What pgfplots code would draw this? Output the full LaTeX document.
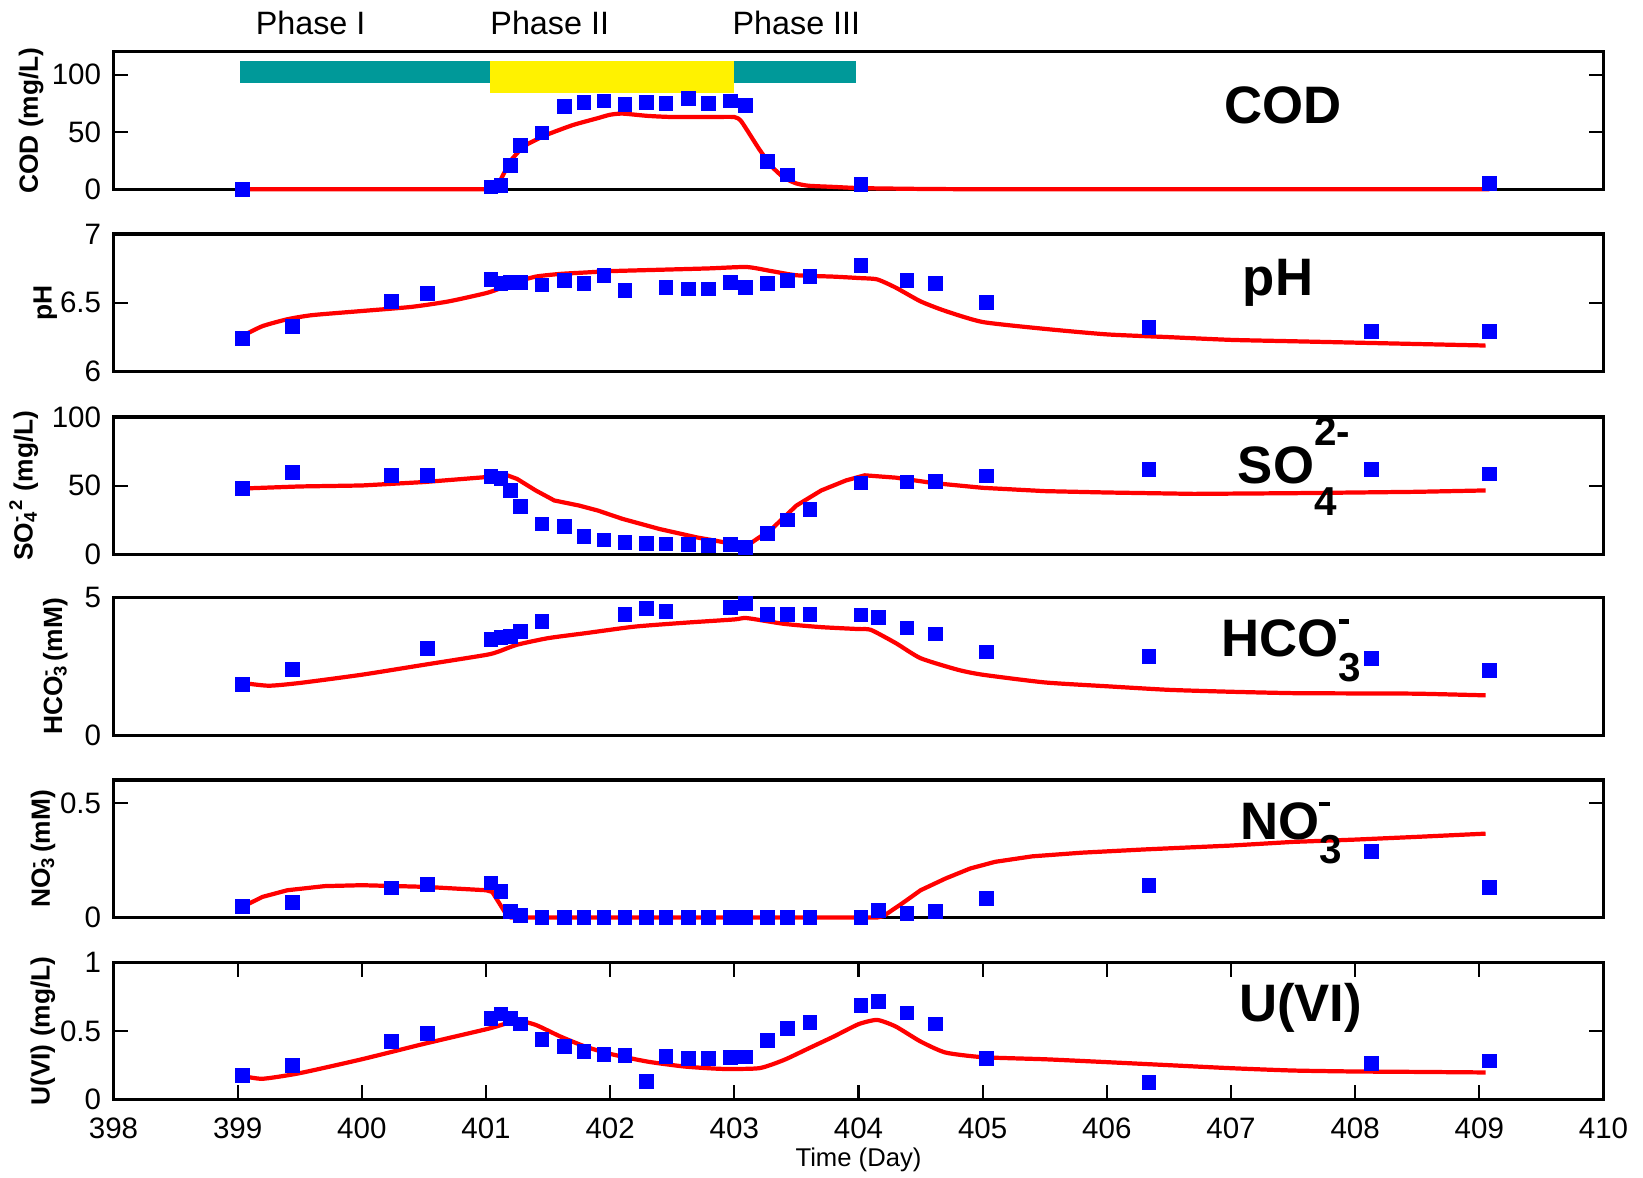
\documentclass[border=0pt]{standalone}
\usepackage{fontspec}
\setmainfont{Liberation Sans}
\usepackage{pgfplots}
\pgfplotsset{compat=1.18}

\definecolor{phaseteal}{RGB}{0,153,153}

\pgfplotsset{
  panel/.style={width=14.9cm, height=1.375cm, scale only axis,
    xmin=398, xmax=410, anchor=north west, at={(1.135cm,#1)},
    xtick=\empty, tick align=inside, major tick length=0.15cm,
    axis line style={line width=0.9pt},
    every tick/.style={black, line width=0.6pt},
    ticklabel style={font=\fontsize{8.4}{10}\selectfont},
    xticklabel style={yshift=-1.5pt},
    /pgf/number format/assume math mode=true,
    ylabel style={font=\bfseries\fontsize{7.5}{9}\selectfont},
    clip=false},
  obs/.style={only marks, mark=square*, mark size=1.9pt, blue, mark options={draw=blue, fill=blue}},
  model/.style={red, line width=1.2pt, no marks, smooth, tension=0.35},
  sharp/.style={red, line width=1.2pt, no marks},
}
\tikzset{tag/.style={anchor=base west, inner sep=0pt, font=\bfseries\fontsize{15}{15}\selectfont},
  phase/.style={anchor=west, inner sep=0pt, font=\fontsize{9.2}{10}\selectfont}}
\newcommand{\dash}{\rule[9.3pt]{3pt}{1.4pt}}
\newcommand{\low}[1]{\raisebox{-0.47em}{\fontsize{11.5}{11.5}\selectfont #1}}

\begin{document}
\begin{tikzpicture}
\path[use as bounding box] (0,0) rectangle (16.43,-11.77);

% COD
\begin{axis}[panel=-0.517cm, ymin=0, ymax=120, ytick={0,50,100}, ylabel={COD (mg/L)}, ylabel shift=-4.5pt]
\addplot[fill=phaseteal, draw=none] coordinates {(399.02,92.4) (403.98,92.4) (403.98,112) (399.02,112)} -- cycle;
\addplot[fill=yellow, draw=none] coordinates {(401.03,83.7) (403.0,83.7) (403.0,112) (401.03,112)} -- cycle;
\addplot[model] coordinates {(399.04,0) (401.0,0) (401.05,0.5) (401.1,5) (401.15,15) (401.2,25) (401.3,37) (401.4,43)
  (401.5,48) (401.7,56) (401.9,62) (402.0,65) (402.1,66) (402.3,64) (402.5,63) (402.8,63) (403.0,63)
  (403.05,60) (403.1,52) (403.2,35) (403.3,20) (403.4,10) (403.5,5) (403.6,3) (403.8,2) (404.0,1)
  (404.3,0.5) (405,0) (409.08,0)};
\addplot[obs] coordinates {(399.04,0) (401.04,2) (401.12,3) (401.20,21) (401.28,38) (401.45,49) (401.63,72)
  (401.79,76) (401.95,77) (402.12,74) (402.29,76) (402.45,75) (402.63,79) (402.79,75) (402.97,77)
  (403.09,73) (403.27,24) (403.43,12.5) (404.02,4) (409.08,5)};
\node[phase] at (axis cs:399.14,145) {Phase I};
\node[phase] at (axis cs:401.03,145) {Phase II};
\node[phase] at (axis cs:402.98,145) {Phase III};
\node[tag] at (axis cs:406.94,57) {COD};
\end{axis}

% pH
\begin{axis}[panel=-2.34cm, ymin=6, ymax=7, ytick={6,6.5,7}, ylabel={pH}, ylabel shift=-6pt]
\addplot[model] coordinates {(399.04,6.26) (399.2,6.33) (399.4,6.38) (399.6,6.41) (400.0,6.44) (400.4,6.47)
  (400.7,6.51) (401.0,6.57) (401.1,6.60) (401.2,6.64) (401.4,6.69) (401.6,6.71) (401.8,6.72) (402.0,6.73)
  (402.4,6.74) (402.8,6.75) (403.1,6.76) (403.3,6.73) (403.5,6.70) (403.8,6.69) (404.0,6.68) (404.15,6.67)
  (404.3,6.61) (404.5,6.51) (404.7,6.44) (405.0,6.36) (405.5,6.31) (406.0,6.27) (406.5,6.25) (407.0,6.23)
  (407.5,6.22) (408.0,6.21) (408.5,6.20) (409.0,6.19) (409.05,6.19)};
\addplot[obs] coordinates {(399.04,6.24) (399.44,6.33) (400.24,6.51) (400.53,6.57) (401.04,6.67) (401.12,6.64)
  (401.20,6.65) (401.28,6.65) (401.45,6.63) (401.63,6.66) (401.79,6.64) (401.95,6.70) (402.12,6.59)
  (402.45,6.61) (402.63,6.60) (402.79,6.60) (402.97,6.65) (403.09,6.61) (403.27,6.64) (403.43,6.66)
  (403.61,6.69) (404.02,6.77) (404.39,6.66) (404.62,6.64) (405.03,6.50) (406.34,6.32) (408.13,6.29) (409.08,6.29)};
\node[tag] at (axis cs:407.09,6.55) {pH};
\end{axis}

% SO4
\begin{axis}[panel=-4.17cm, ymin=0, ymax=100, ytick={0,50,100}, ylabel shift=-3pt,
  ylabel={SO\rlap{\textsubscript{4}}\textsuperscript{-}\,\textsuperscript{2} (mg/L)}]
\addplot[sharp] coordinates {(399.04,48) (399.5,49.5) (400.0,50.2) (400.5,52.7) (401.0,56.3) (401.15,58.3)
  (401.25,55) (401.4,46.6) (401.55,39.3) (401.75,35.6) (401.9,32) (402.1,25.9) (402.4,18.5) (402.7,12.4)
  (403.0,7.6) (403.1,6.3) (403.3,18.5) (403.5,35.6) (403.7,46.6) (403.9,53.9) (404.05,57.6) (404.3,55.9)
  (404.6,52) (405.0,48.5) (405.5,46.1) (406.0,45.1) (406.7,44.1) (407.5,44.6) (408.0,45.1) (408.5,45.6)
  (409.05,46.6)};
\addplot[obs] coordinates {(399.04,47.8) (399.44,59.5) (400.24,57.6) (400.53,57.3) (401.04,56.8) (401.12,55.4)
  (401.20,46.6) (401.28,35.1) (401.45,22.2) (401.63,20.2) (401.79,12.9) (401.95,10.5) (402.12,8.8)
  (402.29,8.0) (402.45,7.6) (402.63,7.3) (402.79,6.8) (402.97,7.3) (403.09,5.1) (403.27,15.4) (403.43,25.1)
  (403.61,32.9) (404.02,52) (404.39,52.7) (404.62,53.2) (405.03,57.1) (406.34,62) (408.13,61.7) (409.08,58.5)};
\node[tag] at (axis cs:407.05,52) {SO\rlap{\raisebox{0.72em}{\fontsize{11.5}{11.5}\selectfont 2-}}\raisebox{-0.62em}{\fontsize{11.5}{11.5}\selectfont 4}};
\end{axis}

% HCO3
\begin{axis}[panel=-5.977cm, ymin=0, ymax=5, ytick={0,5}, ylabel shift=-2pt,
  ylabel={HCO\rlap{\textsubscript{3}}\textsuperscript{-}\ (mM)}]
\addplot[model] coordinates {(399.04,1.90) (399.25,1.80) (399.5,1.90) (400.0,2.20) (400.5,2.56) (401.0,2.92)
  (401.1,3.04) (401.25,3.29) (401.5,3.53) (401.8,3.71) (402.2,3.95) (402.6,4.09) (403.0,4.21) (403.1,4.26)
  (403.4,4.05) (403.7,3.93) (404.0,3.86) (404.1,3.83) (404.3,3.35) (404.5,2.80) (404.8,2.38) (405.0,2.20)
  (405.5,1.92) (406.0,1.78) (406.5,1.65) (407.0,1.58) (407.5,1.53) (408.0,1.52) (408.5,1.51) (409.05,1.45)};
\addplot[obs] coordinates {(399.04,1.85) (399.44,2.38) (400.53,3.14) (401.04,3.49) (401.12,3.56) (401.20,3.59)
  (401.28,3.76) (401.45,4.14) (402.12,4.38) (402.29,4.61) (402.45,4.49) (402.97,4.65) (403.09,4.79)
  (403.27,4.38) (403.43,4.38) (403.61,4.38) (404.02,4.37) (404.16,4.29) (404.39,3.90) (404.62,3.68)
  (405.03,3.03) (406.34,2.86) (408.13,2.79) (409.08,2.34)};
\node[tag] at (axis cs:406.92,2.86) {HCO\rlap{\dash}\low{3}};
\end{axis}

% NO3
\begin{axis}[panel=-7.80cm, ymin=0, ymax=0.6, ytick={0,0.5}, ylabel shift=-5.5pt,
  ylabel={NO\rlap{\textsubscript{3}}\textsuperscript{-}\ (mM)}]
\addplot[sharp] coordinates {(399.04,0.047) (399.2,0.09) (399.4,0.119) (399.7,0.137) (400.0,0.141) (400.5,0.134)
  (401.0,0.119) (401.05,0.112) (401.15,0.025) (401.2,0) (404.15,0) (404.2,0.006) (404.35,0.061) (404.5,0.119)
  (404.7,0.17) (404.9,0.214) (405.1,0.243) (405.4,0.267) (405.8,0.283) (406.3,0.297) (407.0,0.314)
  (407.5,0.330) (408.0,0.340) (408.5,0.352) (409.05,0.366)};
\addplot[obs] coordinates {(399.04,0.047) (399.44,0.065) (400.24,0.129) (400.53,0.144) (401.04,0.151)
  (401.12,0.115) (401.20,0.025) (401.28,0.01) (401.45,0) (401.63,0) (401.79,0) (401.95,0) (402.12,0)
  (402.29,0) (402.45,0) (402.63,0) (402.79,0) (402.97,0) (403.09,0) (403.27,0) (403.43,0) (403.61,0)
  (404.02,0) (404.16,0.03) (404.39,0.017) (404.62,0.025) (405.03,0.083) (406.34,0.141) (408.13,0.289)
  (409.08,0.131)};
\node[tag] at (axis cs:407.07,0.342) {NO\rlap{\dash}\low{3}};
\end{axis}

% U(VI)
\begin{axis}[panel=-9.623cm, ymin=0, ymax=1, ytick={0,0.5,1}, ylabel={U(VI) (mg/L)}, ylabel shift=-5.5pt,
  xtick={398,399,...,410}, xlabel={Time (Day)},
  xlabel style={at={(axis description cs:0.5,-0.436)}, anchor=center, font=\fontsize{7.3}{9}\selectfont}]
\addplot[model] coordinates {(399.04,0.174) (399.2,0.153) (399.5,0.194) (400.0,0.295) (400.5,0.407) (401.0,0.513)
  (401.1,0.538) (401.25,0.576) (401.4,0.545) (401.6,0.46) (401.8,0.387) (402.0,0.334) (402.3,0.278)
  (402.6,0.242) (402.9,0.225) (403.2,0.23) (403.4,0.29) (403.6,0.375) (403.8,0.46) (404.0,0.55)
  (404.15,0.581) (404.3,0.533) (404.5,0.424) (404.7,0.344) (405.0,0.31) (405.5,0.295) (406.0,0.274)
  (406.5,0.252) (407.0,0.23) (407.5,0.213) (408.0,0.206) (408.5,0.203) (409.05,0.199)};
\addplot[obs] coordinates {(399.04,0.177) (399.44,0.247) (400.24,0.426) (400.53,0.484) (401.04,0.593)
  (401.12,0.625) (401.20,0.593) (401.28,0.552) (401.45,0.436) (401.63,0.387) (401.79,0.351) (401.95,0.332)
  (402.12,0.322) (402.29,0.133) (402.45,0.315) (402.63,0.303) (402.79,0.303) (402.97,0.308) (403.09,0.312)
  (403.27,0.429) (403.43,0.521) (403.61,0.564) (404.02,0.688) (404.16,0.714) (404.39,0.632) (404.62,0.552)
  (405.03,0.298) (406.34,0.126) (408.13,0.262) (409.08,0.283)};
\node[tag] at (axis cs:407.06,0.57) {U(VI)};
\end{axis}
\end{tikzpicture}
\end{document}
